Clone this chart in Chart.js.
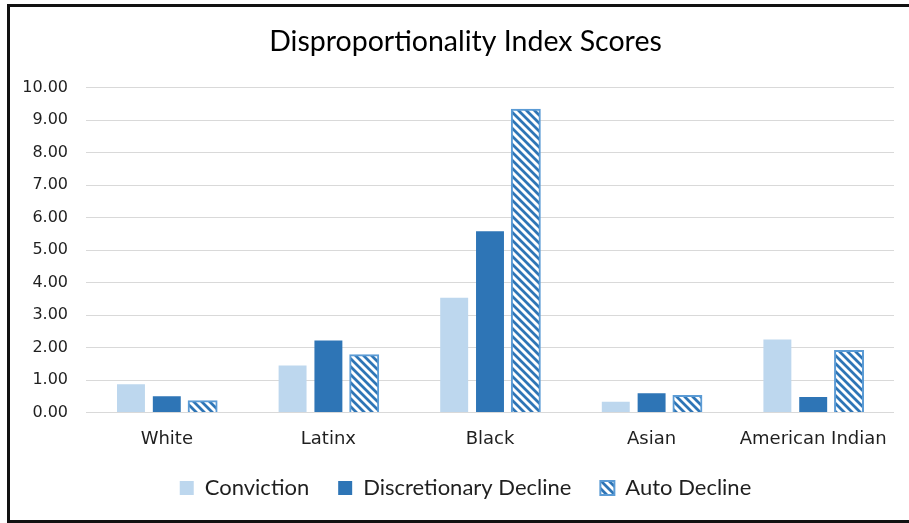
<!DOCTYPE html>
<html>
<head>
<meta charset="utf-8">
<script src="https://cdn.jsdelivr.net/npm/chart.js@4"></script>
<style>
  html, body { margin: 0; padding: 0; background: #fff; overflow: hidden; }
  /* black frame round the chart, open on the right like the cropped original */
  #frame { position: absolute; left: 7px; top: 4px; width: 1000px; height: 513px; border: 3px solid #111; border-right: none; }
  #chart { position: absolute; left: 0; top: 0; }
</style>
</head>
<body>
<div id="frame"></div>
<canvas id="chart" width="909" height="523"></canvas>
<script>
// Chart data
const categories = ["White", "Latinx", "Black", "Asian", "American Indian"];
const conviction = [0.87, 1.45, 3.53, 0.33, 2.25];
const discretionaryDecline = [0.50, 2.22, 5.58, 0.59, 0.48];
const autoDecline = [0.35, 1.76, 9.32, 0.51, 1.89];
const yTickLabels = ["0.00", "1.00", "2.00", "3.00", "4.00", "5.00", "6.00", "7.00", "8.00", "9.00", "10.00"];

const ctx = document.getElementById("chart").getContext("2d");

// Diagonal hatch fill for the Auto Decline bars.
function makeHatch(target) {
  const c = document.createElement("canvas");
  c.width = 8;
  c.height = 8;
  const g = c.getContext("2d");
  g.fillStyle = "#ffffff";
  g.fillRect(0, 0, 8, 8);
  g.strokeStyle = "#2E75B6";
  g.lineWidth = 2.8;
  g.beginPath();
  g.moveTo(-2, -2); g.lineTo(10, 10);
  g.moveTo(-2, 6); g.lineTo(2, 10);
  g.moveTo(6, -2); g.lineTo(10, 2);
  g.stroke();
  return target.createPattern(c, "repeat");
}
const hatch = makeHatch(ctx);

const chart = new Chart(ctx, {
  type: "bar",
  data: {
    labels: categories,
    datasets: [
      { label: "Conviction", data: conviction, backgroundColor: "#BDD7EE", borderWidth: 0 },
      { label: "Discretionary Decline", data: discretionaryDecline, backgroundColor: "#2E75B6", borderWidth: 0 },
      { label: "Auto Decline", data: autoDecline, backgroundColor: hatch, borderColor: "#5B9BD5", borderWidth: 2, inflateAmount: 1 }
    ]
  },
  options: {
    responsive: false,
    animation: false,
    layout: { padding: { left: 22, right: 0, top: 10, bottom: 14 } },
    datasets: { bar: { categoryPercentage: 0.665, barPercentage: 0.78 } },
    scales: {
      x: {
        grid: { display: false, drawTicks: false },
        border: { display: false },
        ticks: { font: { family: "DejaVu Sans", size: 18 }, color: "#1f1f1f", padding: 16.5, maxRotation: 0 },
        afterFit: (scale) => { scale.height = 35.5; }
      },
      y: {
        min: 0,
        max: 10,
        ticks: {
          stepSize: 1,
          callback: (v, i) => yTickLabels[i],
          padding: 18,
          font: { family: "DejaVu Sans", size: 16 },
          color: "#1f1f1f"
        },
        grid: { color: "#D9D9D9", drawTicks: false },
        border: { display: false },
        afterFit: (scale) => { scale.width = 64; }
      },
      // empty right-hand spacer so the title and legend centre like the original
      y2: {
        position: "right",
        grid: { display: false, drawTicks: false },
        border: { display: false },
        ticks: { display: false },
        afterFit: (scale) => { scale.width = 15; }
      }
    },
    plugins: {
      title: {
        display: true,
        text: "Disproportionality Index Scores",
        font: { family: "Lato", size: 28.5, weight: "normal" },
        color: "#000000",
        padding: { top: 15, bottom: 28.5 }
      },
      legend: {
        position: "bottom",
        labels: { boxWidth: 14, boxHeight: 14, padding: 29, font: { family: "Lato", size: 22 }, color: "#1f1f1f" }
      },
      tooltip: { enabled: false }
    }
  }
});
</script>
</body>
</html>
